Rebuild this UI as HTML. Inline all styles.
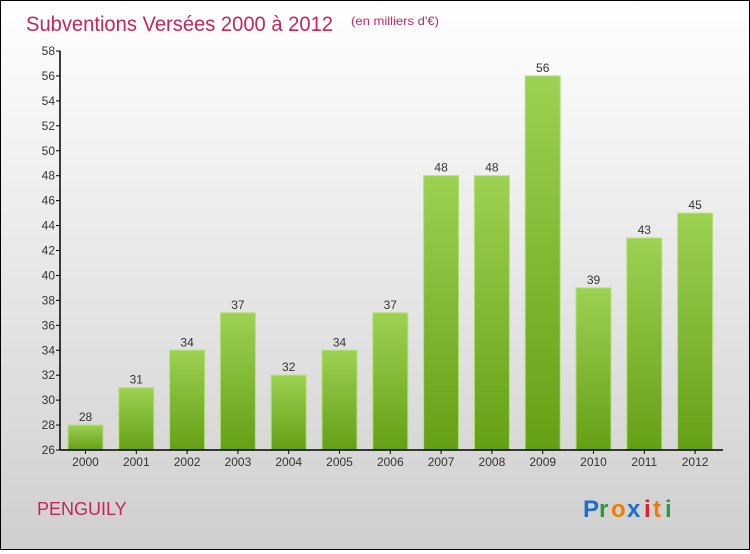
<!DOCTYPE html>
<html><head><meta charset="utf-8"><style>
body{margin:0;width:750px;height:550px;overflow:hidden;font-family:"Liberation Sans","DejaVu Sans",sans-serif}
#wrap{position:absolute;left:0;top:0;width:748px;height:548px;border:1px solid #000;background:linear-gradient(#ffffff,#cfcfcf)}
</style></head><body>
<div id="wrap">
<svg width="748" height="548">
<defs><linearGradient id="bg" x1="0" y1="0" x2="0" y2="1"><stop offset="0" stop-color="#9dd152"/><stop offset="1" stop-color="#64a016"/></linearGradient></defs>
<text x="25" y="30" font-size="21" fill="#c8245a" textLength="307" lengthAdjust="spacingAndGlyphs">Subventions Versées 2000 à 2012</text>
<text x="350" y="24" font-size="12" fill="#c8245a" textLength="88" lengthAdjust="spacingAndGlyphs">(en milliers d'€)</text>
<text x="36" y="514" font-size="18" fill="#c8245a">PENGUILY</text>
<g font-size="24" font-weight="bold">
<text x="582" y="516" fill="#1a6fcf">P</text><text x="598" y="516" fill="#2a9a3a">r</text><text x="610" y="516" fill="#f07d00">o</text><text x="626" y="516" fill="#1a6fcf">x</text><text x="643" y="516" fill="#e02020">i</text><text x="652" y="516" fill="#f07d00">t</text><text x="664" y="516" fill="#2a9a3a">i</text>
</g>
<g id="plot"></g>
</svg></div>
<script>
const years=["2000","2001","2002","2003","2004","2005","2006","2007","2008","2009","2010","2011","2012"];
const values=[28,31,34,37,32,34,37,48,48,56,39,43,45];
const yTicks=[26,28,30,32,34,36,38,40,42,44,46,48,50,52,54,56,58];
const Y0=26,Y1=58,PT=50,PB=449,PL=59,STEP=50.8,BW=35;
const ys=v=>PB-(v-Y0)/(Y1-Y0)*(PB-PT);
const xs=i=>PL+8+i*STEP;
const g=document.getElementById('plot');const NS='http://www.w3.org/2000/svg';
function mk(t,a,txt){const e=document.createElementNS(NS,t);for(const k in a)e.setAttribute(k,a[k]);if(txt!==undefined)e.textContent=txt;g.appendChild(e);return e;}
values.forEach((v,i)=>{
 const r=mk('rect',{x:xs(i),y:ys(v),width:BW,height:PB-ys(v),fill:'url(#bg)',stroke:'#b5e07a','stroke-width':1});
 
 
 const t=mk('text',{x:xs(i)+BW/2,y:ys(v)-4,'text-anchor':'middle','font-size':12,fill:'#333'},v);
 
 
 const xl=mk('text',{x:xs(i)+BW/2,y:PB+16,'text-anchor':'middle','font-size':12,fill:'#333'},years[i]);
 
 
 mk('line',{x1:xs(i)+BW/2,x2:xs(i)+BW/2,y1:PB,y2:PB+4,stroke:'#000'});
});
yTicks.forEach(v=>{
 mk('line',{x1:PL-4,x2:PL,y1:ys(v),y2:ys(v),stroke:'#000'});
 const t=mk('text',{x:PL-5,y:ys(v)+4,'text-anchor':'end','font-size':12,fill:'#333'},v);
 
 
});
const ya=mk('line',{x1:PL,x2:PL,y1:PT,y2:PB,stroke:'#000','stroke-width':1.5});


const xa=mk('line',{x1:PL,x2:722,y1:PB,y2:PB,stroke:'#000','stroke-width':1.5});


</script>
</body></html>
